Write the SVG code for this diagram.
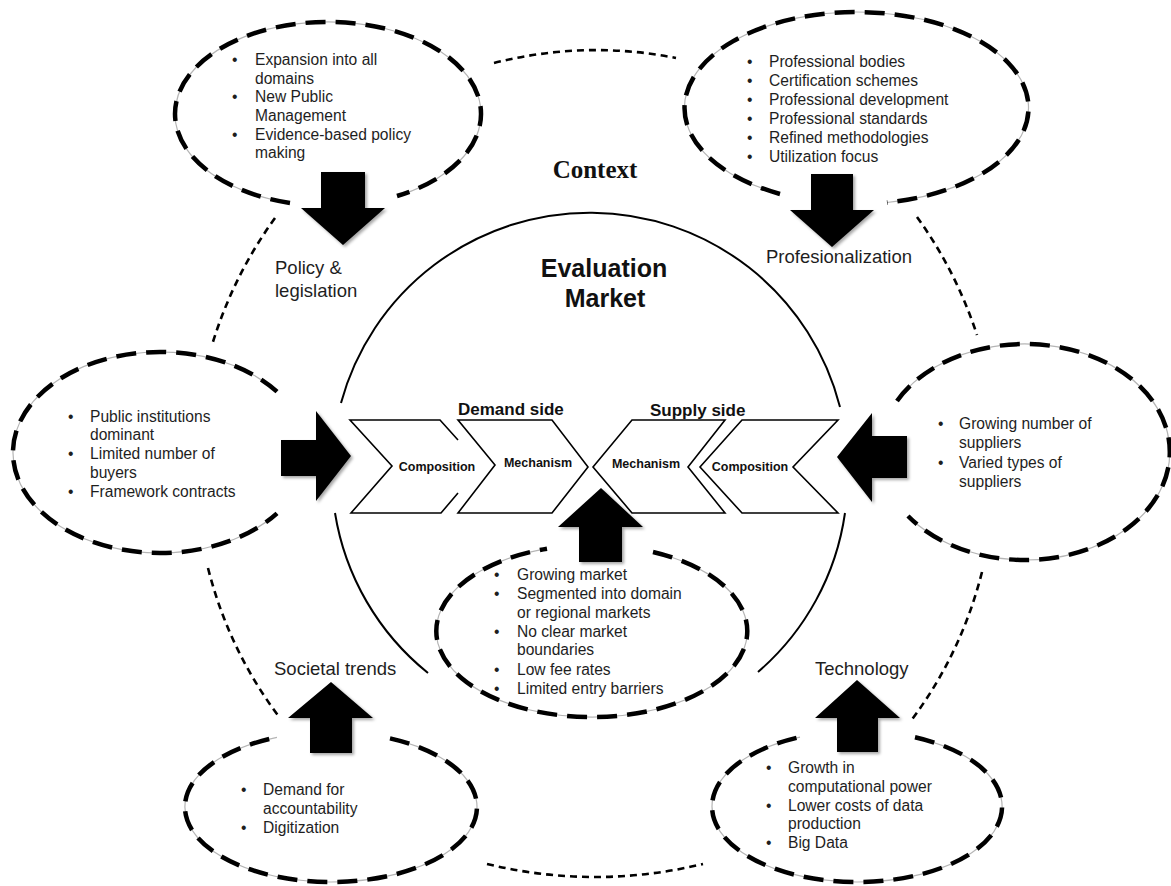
<svg xmlns="http://www.w3.org/2000/svg" width="1171" height="886" viewBox="0 0 1171 886">
<defs>
<filter id="sh" x="-20%" y="-20%" width="150%" height="150%">
<feDropShadow dx="2" dy="2" stdDeviation="1.8" flood-color="#000" flood-opacity="0.35"/>
</filter>
</defs>
<style>
.bg{fill:#fff}
.eg{fill:none;stroke:#b5b5b5;stroke-width:1.2}
.ed{fill:none;stroke:#000;stroke-width:4.5;stroke-dasharray:20 10}
.od{fill:none;stroke:#000;stroke-width:2.6;stroke-dasharray:7 5}
.mk{fill:none;stroke:#000;stroke-width:2}
.ch{fill:#fff;stroke:#000;stroke-width:1.6;stroke-linejoin:miter}
.chf{fill:#fff;stroke:none}
.chl{fill:none;stroke:#000;stroke-width:1.6}
.ar{fill:#000;filter:url(#sh)}
.b{font-family:"Liberation Sans",Arial,sans-serif;font-size:15.6px;fill:#1e1e1e}
.lb{font-family:"Liberation Sans",Arial,sans-serif;font-size:18.5px;fill:#1e1e1e}
.cl{font-family:"Liberation Sans",Arial,sans-serif;font-size:12.5px;font-weight:bold;fill:#111;text-anchor:middle}
.sd{font-family:"Liberation Sans",Arial,sans-serif;font-size:17px;font-weight:bold;fill:#111}
.em{font-family:"Liberation Sans",Arial,sans-serif;font-size:25px;font-weight:bold;fill:#111;text-anchor:middle}
.ctx{font-family:"Liberation Serif","Times New Roman",serif;font-size:25px;font-weight:bold;fill:#111;text-anchor:middle}
</style>
<rect class="bg" x="0" y="0" width="1171" height="886"/>

<g id="market">
<path class="mk" d="M 341 403 A 258 258 0 0 1 840 407"/>
<path class="mk" d="M 335 513 A 258 258 0 0 0 428 673"/>
<path class="mk" d="M 845 513 A 258 258 0 0 1 758 672"/>
<text class="em" x="604" y="277">Evaluation</text>
<text class="em" x="605" y="307">Market</text>
</g>

<g id="context-label">
<text class="ctx" x="595" y="178">Context</text>
</g>

<g id="connectors">
<path class="od" d="M 494 63 Q 585 40 676 58"/>
<path class="od" d="M 275 218 Q 233 276 212 345"/>
<path class="od" d="M 208 568 Q 229 651 280 718"/>
<path class="od" d="M 917 217 Q 956 271 977 335"/>
<path class="od" d="M 982 572 Q 961 655 910 722"/>
<path class="od" d="M 487 864 Q 595 890 703 864"/>
</g>

<g id="chevrons">
<polygon class="chf" points="350,420 440,420 458,440 458,493 441,513 351,513 392,466"/>
<path class="chl" d="M 458 440 L 440 420 L 350 420 L 392 466 L 351 513 L 441 513 L 458 493"/>
<path class="ch" d="M 458 420 L 552 420 L 588 467 L 552 513 L 458 513 L 495 465 Z"/>
<path class="ch" d="M 632 420 L 725 420 L 688 467 L 725 513 L 632 513 L 593 467 Z"/>
<path class="ch" d="M 742 420 L 838 420 L 793 467 L 838 513 L 742 513 L 700 467 Z"/>
<text class="cl" x="437" y="471">Composition</text>
<text class="cl" x="538" y="467">Mechanism</text>
<text class="cl" x="646" y="468">Mechanism</text>
<text class="cl" x="750" y="471">Composition</text>
<text class="sd" x="458" y="415">Demand side</text>
<text class="sd" x="650" y="416">Supply side</text>
</g>

<g id="policy">
<path class="eg" d="M 290 203 A 153 92 0 1 1 397 196"/>
<path class="ed" d="M 290 203 A 153 92 0 1 1 397 196"/>
<text class="b" x="232" y="65">•</text><text class="b" x="255" y="65">Expansion into all</text>
<text class="b" x="255" y="84">domains</text>
<text class="b" x="232" y="102">•</text><text class="b" x="255" y="102">New Public</text>
<text class="b" x="255" y="121">Management</text>
<text class="b" x="232" y="140">•</text><text class="b" x="255" y="140">Evidence-based policy</text>
<text class="b" x="255" y="158">making</text>
<polygon class="ar" points="321,172 365,172 365,208 385,208 343,245 301,208 321,208"/>
<text class="lb" x="275" y="274">Policy &amp;</text>
<text class="lb" x="275" y="297">legislation</text>
</g>

<g id="professionalization">
<path class="eg" d="M 780 194 A 172 96 0 1 1 887 202.5"/>
<path class="ed" d="M 780 194 A 172 96 0 1 1 887 202.5"/>
<text class="b" x="747" y="67">•</text><text class="b" x="769" y="67">Professional bodies</text>
<text class="b" x="747" y="86">•</text><text class="b" x="769" y="86">Certification schemes</text>
<text class="b" x="747" y="105">•</text><text class="b" x="769" y="105">Professional development</text>
<text class="b" x="747" y="124">•</text><text class="b" x="769" y="124">Professional standards</text>
<text class="b" x="747" y="143">•</text><text class="b" x="769" y="143">Refined methodologies</text>
<text class="b" x="747" y="162">•</text><text class="b" x="769" y="162">Utilization focus</text>
<polygon class="ar" points="811,174 853,174 853,210 874,210 832,247 790,210 811,210"/>
<text class="lb" x="766" y="263">Profesionalization</text>
</g>

<g id="demand-composition">
<path class="eg" d="M 277 391.7 A 147 100.5 0 1 0 277 513.3"/>
<path class="ed" d="M 277 391.7 A 147 100.5 0 1 0 277 513.3"/>
<text class="b" x="68" y="422">•</text><text class="b" x="90" y="422">Public institutions</text>
<text class="b" x="90" y="440">dominant</text>
<text class="b" x="68" y="459">•</text><text class="b" x="90" y="459">Limited number of</text>
<text class="b" x="90" y="478">buyers</text>
<text class="b" x="68" y="497">•</text><text class="b" x="90" y="497">Framework contracts</text>
<polygon class="ar" points="281,440 316,440 316,411 351,456 316,501 316,476 281,476"/>
</g>

<g id="supply-composition">
<path class="eg" d="M 897 401 A 145 108 0 1 1 908 516"/>
<path class="ed" d="M 897 401 A 145 108 0 1 1 908 516"/>
<text class="b" x="938" y="429">•</text><text class="b" x="959" y="429">Growing number of</text>
<text class="b" x="959" y="448">suppliers</text>
<text class="b" x="938" y="468">•</text><text class="b" x="959" y="468">Varied types of</text>
<text class="b" x="959" y="487">suppliers</text>
<polygon class="ar" points="907,436 872,436 872,413 837,457 872,502 872,478 907,478"/>
</g>

<g id="market-characteristics">
<path class="eg" d="M 653 552 A 155.5 86 0 1 1 547 548.7"/>
<path class="ed" d="M 653 552 A 155.5 86 0 1 1 547 548.7"/>
<text class="b" x="494" y="580">•</text><text class="b" x="517" y="580">Growing market</text>
<text class="b" x="494" y="599">•</text><text class="b" x="517" y="599">Segmented into domain</text>
<text class="b" x="517" y="618">or regional markets</text>
<text class="b" x="494" y="637">•</text><text class="b" x="517" y="637">No clear market</text>
<text class="b" x="517" y="655">boundaries</text>
<text class="b" x="494" y="675">•</text><text class="b" x="517" y="675">Low fee rates</text>
<text class="b" x="494" y="694">•</text><text class="b" x="517" y="694">Limited entry barriers</text>
<polygon class="ar" points="579,562 622,562 622,527 643,527 601,488 558,527 579,527"/>
</g>

<g id="societal-trends">
<path class="eg" d="M 390 738.4 A 146 75 0 1 1 277 737.3"/>
<path class="ed" d="M 390 738.4 A 146 75 0 1 1 277 737.3"/>
<text class="b" x="241" y="795">•</text><text class="b" x="263" y="795">Demand for</text>
<text class="b" x="263" y="814">accountability</text>
<text class="b" x="241" y="833">•</text><text class="b" x="263" y="833">Digitization</text>
<polygon class="ar" points="310,753 352,753 352,718 373,718 331,682 288,718 310,718"/>
<text class="lb" x="274" y="675">Societal trends</text>
</g>

<g id="technology">
<path class="eg" d="M 915 737.3 A 145 75.5 0 1 1 800 737.1"/>
<path class="ed" d="M 915 737.3 A 145 75.5 0 1 1 800 737.1"/>
<text class="b" x="766" y="773">•</text><text class="b" x="788" y="773">Growth in</text>
<text class="b" x="788" y="792">computational power</text>
<text class="b" x="766" y="811">•</text><text class="b" x="788" y="811">Lower costs of data</text>
<text class="b" x="788" y="829">production</text>
<text class="b" x="766" y="848">•</text><text class="b" x="788" y="848">Big Data</text>
<polygon class="ar" points="837,752 878,752 878,718 900,718 857,680 815,718 837,718"/>
<text class="lb" x="815" y="675">Technology</text>
</g>
</svg>
